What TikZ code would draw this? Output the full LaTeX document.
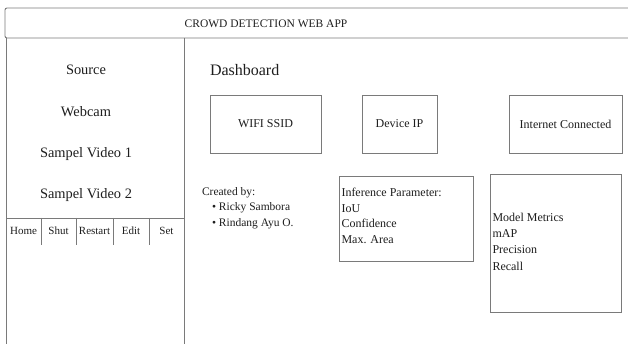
\documentclass[tikz,border=0pt]{standalone}
\usepackage{fontspec}
\setmainfont{Liberation Serif}
\definecolor{frame}{HTML}{7A7A7A}
\definecolor{ink}{HTML}{1E1E1E}
\tikzset{
  every node/.style={text=ink, inner sep=0pt, outer sep=0pt},
  border/.style={draw=frame, line width=0.9pt},
  panel/.style={draw=frame, line width=0.9pt, fill=white},
  big/.style={font=\fontsize{14.4}{16}\selectfont},
  title/.style={font=\fontsize{16}{18}\selectfont},
  body/.style={font=\fontsize{12}{14}\selectfont},
  note/.style={font=\fontsize{11.5}{13}\selectfont},
  small/.style={font=\fontsize{11}{13}\selectfont},
}
\begin{document}
\begin{tikzpicture}[x=1pt, y=-1pt]
\useasboundingbox (0,0) rectangle (628,344);
\clip (0,0) rectangle (628,344);
\fill[white] (0,0) rectangle (628,344);

% header bar
\draw[border, rounded corners=2pt] (5,8) rectangle (650,38);
\node[note, anchor=base] (hdr) at (266,27.5) {CROWD DETECTION WEB APP};

% left side panel
\draw[border] (6,38) -- (6,350);
\draw[border] (184,38) -- (184,350);
\node[big, anchor=base] (src) at (86,75) {Source};
\node[big, anchor=base] (cam) at (86,117) {Webcam};
\node[big, anchor=base] (vid1) at (86,158) {Sampel Video 1};
\node[big, anchor=base] (vid2) at (86,199) {Sampel Video 2};

% button strip
\draw[border] (6,218) -- (184,218);
\foreach \x in {41,76,113,149} \draw[border] (\x,218) -- (\x,245);
\node[small, anchor=base] (bhome) at (23.5,235) {Home};
\node[small, anchor=base] (bshut) at (58.5,235) {Shut};
\node[small, anchor=base] (brest) at (94.5,235) {Restart};
\node[small, anchor=base] (bedit) at (131,235) {Edit};
\node[small, anchor=base] (bset) at (166.5,235) {Set};

% dashboard area
\node[title, anchor=base west] (dash) at (210,76) {Dashboard};
\node[panel, body, minimum width=111pt, minimum height=58pt] (wifi) at (265.5,124) {WIFI SSID};
\node[panel, body, minimum width=75pt, minimum height=58pt] (ip) at (399.5,124) {Device IP};
\node[panel, body, minimum width=113pt, minimum height=58pt] (net) at (565.5,124) {Internet Connected};

% credits
\node[note, anchor=base west] (cred) at (202,196) {Created by:};
\node[note, anchor=base west] (auth1) at (212,211) {\textbullet\ Ricky Sambora};
\node[note, anchor=base west] (auth2) at (212,226.5) {\textbullet\ Rindang Ayu O.};

% inference parameters
\node[panel, minimum width=134pt, minimum height=85pt] (infer) at (406,218.5) {};
\node[body, anchor=base west] (inf0) at (341.5,197) {Inference Parameter:};
\node[body, anchor=base west] (inf1) at (341.5,212.5) {IoU};
\node[body, anchor=base west] (inf2) at (341.5,228) {Confidence};
\node[body, anchor=base west] (inf3) at (341.5,243.5) {Max. Area};

% model metrics
\node[panel, minimum width=131pt, minimum height=138pt] (metric) at (555.5,243) {};
\node[body, anchor=base west] (met0) at (492.5,222) {Model Metrics};
\node[body, anchor=base west] (met1) at (492.5,238) {mAP};
\node[body, anchor=base west] (met2) at (492.5,254) {Precision};
\node[body, anchor=base west] (met3) at (492.5,270) {Recall};
\end{tikzpicture}
\end{document}
